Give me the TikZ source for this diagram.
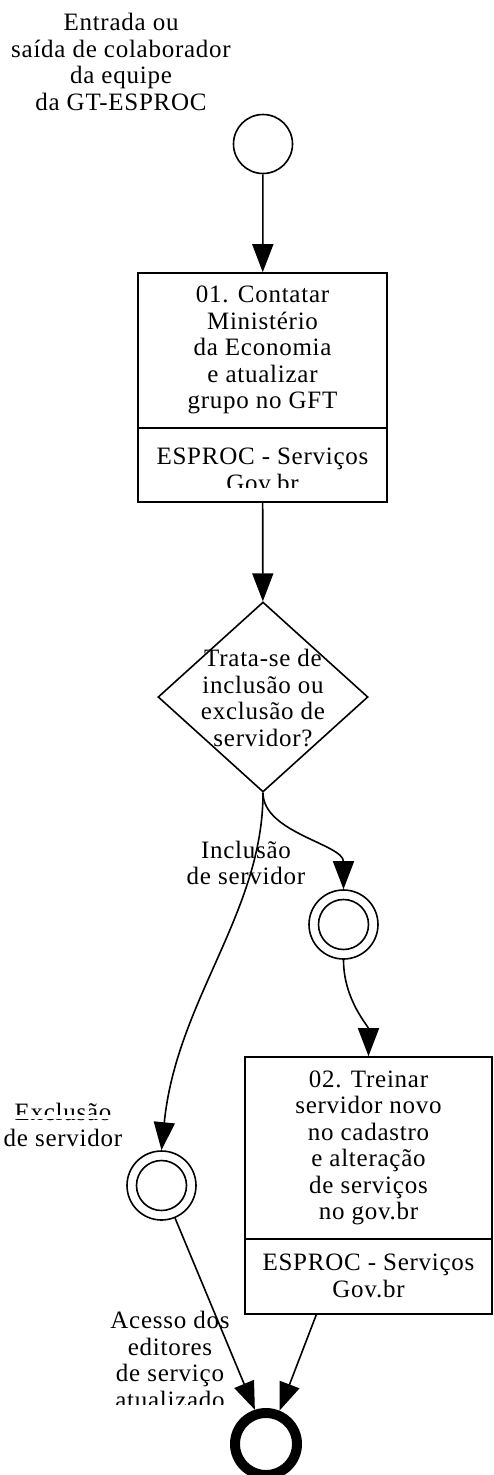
\documentclass[tikz,border=0pt]{standalone}
\usepackage{fontspec}
\setmainfont[LetterSpace=3]{Liberation Serif}
\usetikzlibrary{shapes.geometric,arrows.meta}
\begin{document}
\begin{tikzpicture}[x=1pt,y=-1pt,
  every node/.style={font=\fontsize{25}{26.5}\selectfont, align=center, inner sep=0pt},
  flow/.style={line width=1.6pt, -{Triangle[length=28pt,width=21pt]}},
  shp/.style={draw, line width=1.6pt},
]
\useasboundingbox (0,0) rectangle (493,1475);

% start event and label
\node (lblstart) at (121,62) {Entrada ou\\saída de colaborador\\da equipe\\da GT-ESPROC};
\node[shp, circle, minimum size=59pt] (start) at (263,144) {};

% task 1
\node[shp, minimum width=249pt, minimum height=229pt] (task1) at (262.5,387.5) {};
\coordinate (d1) at (0,428);
\draw[shp] (task1.west |- d1) -- (task1.east |- d1);
\node (t1text) at (262.5,350) {01. Contatar\\Ministério\\da Economia\\e atualizar\\grupo no GFT};
\begin{scope}
  \clip (138,428) rectangle (387,487);
  \node (t1res) at (262.5,470) {ESPROC - Serviços\\Gov.br};
\end{scope}

% gateway
\node[shp, diamond, minimum width=210pt, minimum height=190pt] (gw) at (263,697) {};
\node (gwtext) at (263,698) {Trata-se de\\inclusão ou\\exclusão de\\servidor?};

% intermediate events
\node[shp, circle, minimum size=69pt] (ev1) at (343.5,924.5) {};
\draw[shp] (ev1.center) circle (25pt);
\node[shp, circle, minimum size=69pt] (ev2) at (161.5,1185.5) {};
\draw[shp] (ev2.center) circle (25pt);

% task 2
\node[shp, minimum width=247pt, minimum height=257pt] (task2) at (368.5,1185.5) {};
\coordinate (d2) at (0,1239);
\draw[shp] (task2.west |- d2) -- (task2.east |- d2);
\node (t2text) at (368.5,1148) {02. Treinar\\servidor novo\\no cadastro\\e alteração\\de serviços\\no gov.br};
\node (t2res) at (368.5,1276) {ESPROC - Serviços\\Gov.br};

% end event
\node[draw, circle, line width=10pt, minimum size=62pt] (endev) at (266,1444) {};

% labels
\node (lblinc) at (246,863) {Inclusão\\de servidor};
\begin{scope}
  \clip (0,1090) rectangle (140,1114) (0,1119) rectangle (140,1160);
  \node (lblexc) at (63,1125) {Exclusão\\de servidor};
\end{scope}
\begin{scope}
  \clip (90,1300) rectangle (250,1404);
  \node (lblacc) at (170,1360) {Acesso dos\\editores\\de serviço\\atualizado};
\end{scope}

% flows
\draw[flow] (start) -- (task1);
\draw[flow] (task1) -- (gw);
\draw[flow] (gw.south) .. controls +(0,40) and +(0,-45) .. (ev1.north);
\draw[flow] (gw.south) .. controls +(0,120) and +(15,-150) .. (ev2.north);
\draw[flow] (ev1.south) .. controls +(0,40) and +(0,-30) .. (task2.north);
\draw[flow] (ev2) -- (endev.108);
\draw[flow] (task2.248) -- (endev.68);
\end{tikzpicture}
\end{document}
